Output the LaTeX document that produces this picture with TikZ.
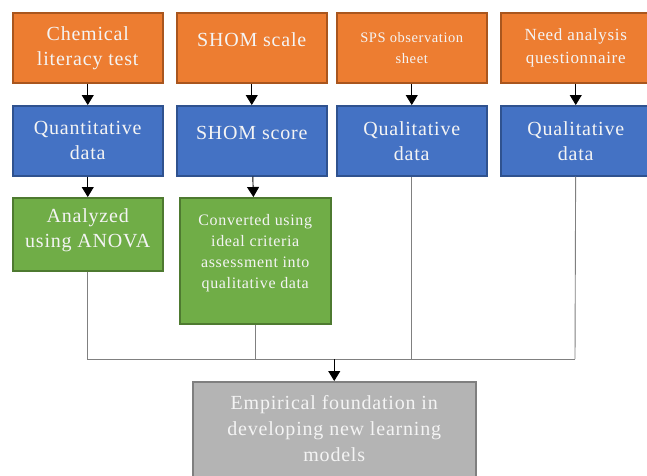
\documentclass[tikz,border=0pt]{standalone}
\usepackage{fontspec}
\setmainfont{Liberation Serif}[LetterSpace=4]
\usetikzlibrary{arrows.meta}
\definecolor{orangefill}{HTML}{ED7D31}
\definecolor{orangeline}{HTML}{A9561E}
\definecolor{bluefill}{HTML}{4472C4}
\definecolor{blueline}{HTML}{2F528F}
\definecolor{greenfill}{HTML}{70AD47}
\definecolor{greenline}{HTML}{4E7A30}
\definecolor{greyfill}{HTML}{B4B4B4}
\definecolor{greyline}{HTML}{7F7F7F}
\definecolor{boxtext}{HTML}{F4F4F4}
\begin{document}
\begin{tikzpicture}[x=1pt, y=-1pt,
          base/.style={rectangle, minimum width=150pt, minimum height=70pt, line width=1.5pt,
            anchor=north west, align=center, text=boxtext, inner sep=0pt,
            font=\fontsize{20}{25}\selectfont},
          source/.style={base, fill=orangefill, draw=orangeline},
          data/.style={base, fill=bluefill, draw=blueline},
          treat/.style={base, fill=greenfill, draw=greenline},
          result/.style={base, fill=greyfill, draw=greyline, minimum width=283pt, minimum height=100pt},
          arr/.style={draw=black, line width=0.9pt, -{Triangle[width=12pt,length=10pt]}},
          feed/.style={draw=gray, line width=0.9pt}]
          \useasboundingbox (0,0) rectangle (647,475);
          % \draw [help lines] grid(3,2);
          \node[source] (chem) at (12,12) {Chemical\\literacy test};
          \node[source] (shom) at (176,12) {SHOM scale\\[-8pt]};
          \node[source, font=\fontsize{14.5}{21}\selectfont] (sps) at (336,12) {SPS observation\\sheet};
          \node[source, font=\fontsize{17}{23}\selectfont] (need) at (500,12) {Need analysis\\questionnaire};
          \node[data] (quant) at (12,105) {Quantitative\\data};
          \node[data] (score) at (176,105) {SHOM score\\[-9pt]};
          \node[data] (qual1) at (336,105) {Qualitative\\data};
          \node[data] (qual2) at (500,105) {Qualitative\\data};
          \node[treat, minimum height=73pt] (anova) at (12,197) {Analyzed\\using ANOVA\\[-13pt]};
          \node[treat, minimum width=151pt, minimum height=126pt, font=\fontsize{16}{21}\selectfont] (conv)
            at (179,197) {Converted using\\ideal criteria\\assessment into\\qualitative data\\[-3pt]};
          \node[result, font=\fontsize{20}{26}\selectfont] (emp) at (192,381)
            {Empirical foundation in\\developing new learning\\models\\[-20pt]};
          \coordinate (joinR) at (575,359);
          \draw[arr] (chem) -- (quant);
          \draw[arr] (shom) -- (score);
          \draw[arr] (sps) -- (qual1);
          \draw[arr] (need) -- (qual2);
          \draw[arr] (quant) -- (anova);
          \draw[arr] (score) -- (conv);
          \draw[feed] (anova) |- (joinR);
          \draw[feed] (conv) -- (conv |- joinR);
          \draw[feed] (qual1) -- (qual1 |- joinR);
          \draw[feed] (qual2) -- (joinR);
          \draw[arr] (emp.north |- joinR) -- (emp);
        \end{tikzpicture}
\end{document}
